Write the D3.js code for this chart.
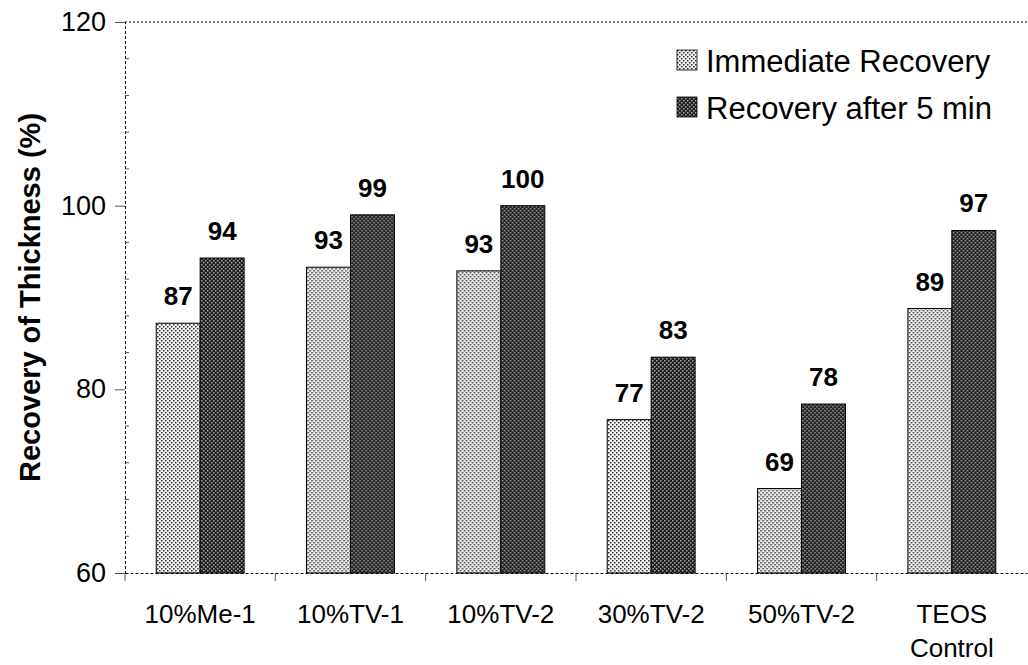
<!DOCTYPE html>
<html>
<head>
<meta charset="utf-8">
<script src="https://cdn.jsdelivr.net/npm/d3@7/dist/d3.min.js"></script>
<style>
  body{margin:0;background:#fff;}
  text{font-family:"Liberation Sans",Arial,sans-serif;fill:#000;}
</style>
</head>
<body>
<svg id="chart" width="1028" height="665"></svg>
<script>
const categories=["10%Me-1","10%TV-1","10%TV-2","30%TV-2","50%TV-2","TEOS\nControl"];
const seriesNames=["Immediate Recovery","Recovery after 5 min"];
const immediate=[87.2,93.3,92.9,76.7,69.2,88.8];
const after5=[94.3,99.0,100.0,83.5,78.4,97.3];
const labelsImmediate=["87","93","93","77","69","89"];
const labelsAfter=["94","99","100","83","78","97"];
const yTicks=[60,80,100,120];

const svg=d3.select("#chart");
const w=1028,h=665,m={top:22,right:1,bottom:92,left:125};

// dotted fills like the scanned hatch
const defs=svg.append("defs");
const p1=defs.append("pattern").attr("id","patLight").attr("width",4).attr("height",4).attr("patternUnits","userSpaceOnUse");
p1.append("rect").attr("width",4).attr("height",4).attr("fill","#f0f0f0");
p1.append("rect").attr("x",0).attr("y",0).attr("width",1.5).attr("height",1.5).attr("fill","#333");
p1.append("rect").attr("x",2).attr("y",2).attr("width",1.5).attr("height",1.5).attr("fill","#333");
const p2=defs.append("pattern").attr("id","patDark").attr("width",4).attr("height",4).attr("patternUnits","userSpaceOnUse");
p2.append("rect").attr("width",4).attr("height",4).attr("fill","#1e1e1e");
p2.append("rect").attr("x",0).attr("y",0).attr("width",1.5).attr("height",1.5).attr("fill","#a8a8a8");
p2.append("rect").attr("x",2).attr("y",2).attr("width",1.5).attr("height",1.5).attr("fill","#a8a8a8");
const fills=["url(#patLight)","url(#patDark)"];

const x=d3.scaleBand().domain(categories).range([m.left,w-m.right]).paddingInner(0).paddingOuter(0);
const x1=d3.scaleBand().domain([0,1]).range([0,x.bandwidth()]).paddingOuter(0.71).paddingInner(0);
const y=d3.scaleLinear().domain([60,120]).range([h-m.bottom,m.top]);

const data=categories.map((c,i)=>({cat:c,vals:[immediate[i],after5[i]],labels:[labelsImmediate[i],labelsAfter[i]]}));

// top border
svg.append("line")
  .attr("x1",m.left).attr("x2",w-m.right)
  .attr("y1",y(120)).attr("y2",y(120))
  .attr("stroke","#000").attr("stroke-width",1).attr("stroke-dasharray","2,2");

// bars
const g=svg.selectAll(".grp").data(data).join("g")
  .attr("transform",d=>`translate(${x(d.cat)},0)`);
g.selectAll("rect").data(d=>d.vals.map((v,k)=>({k,v})))
  .join("rect")
  .attr("x",d=>x1(d.k))
  .attr("width",x1.bandwidth())
  .attr("y",d=>y(d.v))
  .attr("height",d=>y(60)-y(d.v))
  .attr("fill",d=>fills[d.k])
  .attr("stroke","#000").attr("stroke-width",1);
g.selectAll(".lbl").data(d=>d.vals.map((v,k)=>({k,v,t:d.labels[k]})))
  .join("text")
  .attr("class","lbl")
  .attr("x",d=>x1(d.k)+x1.bandwidth()/2)
  .attr("y",d=>y(d.v)-18)
  .attr("text-anchor","middle")
  .attr("font-size","26px").attr("font-weight","bold")
  .text(d=>d.t);

// y axis
const yAxis=svg.append("g").attr("transform",`translate(${m.left},0)`)
  .call(d3.axisLeft(y).tickValues(yTicks).tickSize(10).tickPadding(9).tickFormat(d3.format("d")));
yAxis.select(".domain").attr("stroke-dasharray","3,2");
yAxis.selectAll("text").attr("font-size","27px").attr("font-family","Liberation Sans, Arial, sans-serif");
yAxis.selectAll(".tick line").attr("stroke","#555");
// minor ticks inward
svg.append("g").selectAll("line").data(d3.range(60,120,4).filter(v=>v%20!==0))
  .join("line")
  .attr("x1",m.left).attr("x2",m.left+4)
  .attr("y1",d=>y(d)).attr("y2",d=>y(d))
  .attr("stroke","#555").attr("stroke-width",1);

// x axis
const xAxis=svg.append("g").attr("transform",`translate(0,${y(60)})`)
  .call(d3.axisBottom(x).tickSize(0).tickFormat(""));
xAxis.select(".domain").attr("stroke-dasharray","3,2");
svg.append("g").selectAll("line").data(categories)
  .join("line")
  .attr("x1",d=>x(d)).attr("x2",d=>x(d))
  .attr("y1",y(60)).attr("y2",y(60)+8)
  .attr("stroke","#555");

svg.append("g").selectAll("text").data(categories).join("text")
  .attr("x",d=>x(d)+x.bandwidth()/2)
  .attr("y",y(60)+50)
  .attr("text-anchor","middle")
  .attr("font-size","26px")
  .each(function(d){
    const lines=d.split("\n");
    d3.select(this).selectAll("tspan").data(lines).join("tspan")
      .attr("x",x(d)+x.bandwidth()/2)
      .attr("dy",(l,i)=>i===0?0:34)
      .text(l=>l);
  });

// y title
svg.append("text")
  .attr("transform",`translate(40,${(m.top+y(60))/2}) rotate(-90)`)
  .attr("text-anchor","middle")
  .attr("font-size","29px").attr("font-weight","bold")
  .text("Recovery of Thickness (%)");

// legend
const leg=svg.append("g").attr("transform","translate(677,50)");
seriesNames.forEach((s,i)=>{
  leg.append("rect").attr("x",0).attr("y",i*47).attr("width",20).attr("height",20)
    .attr("fill",fills[i]).attr("stroke","#000").attr("stroke-width",0.8);
  leg.append("text").attr("x",29).attr("y",i*47+22)
    .attr("font-size","31px").text(s);
});
</script>
</body>
</html>
